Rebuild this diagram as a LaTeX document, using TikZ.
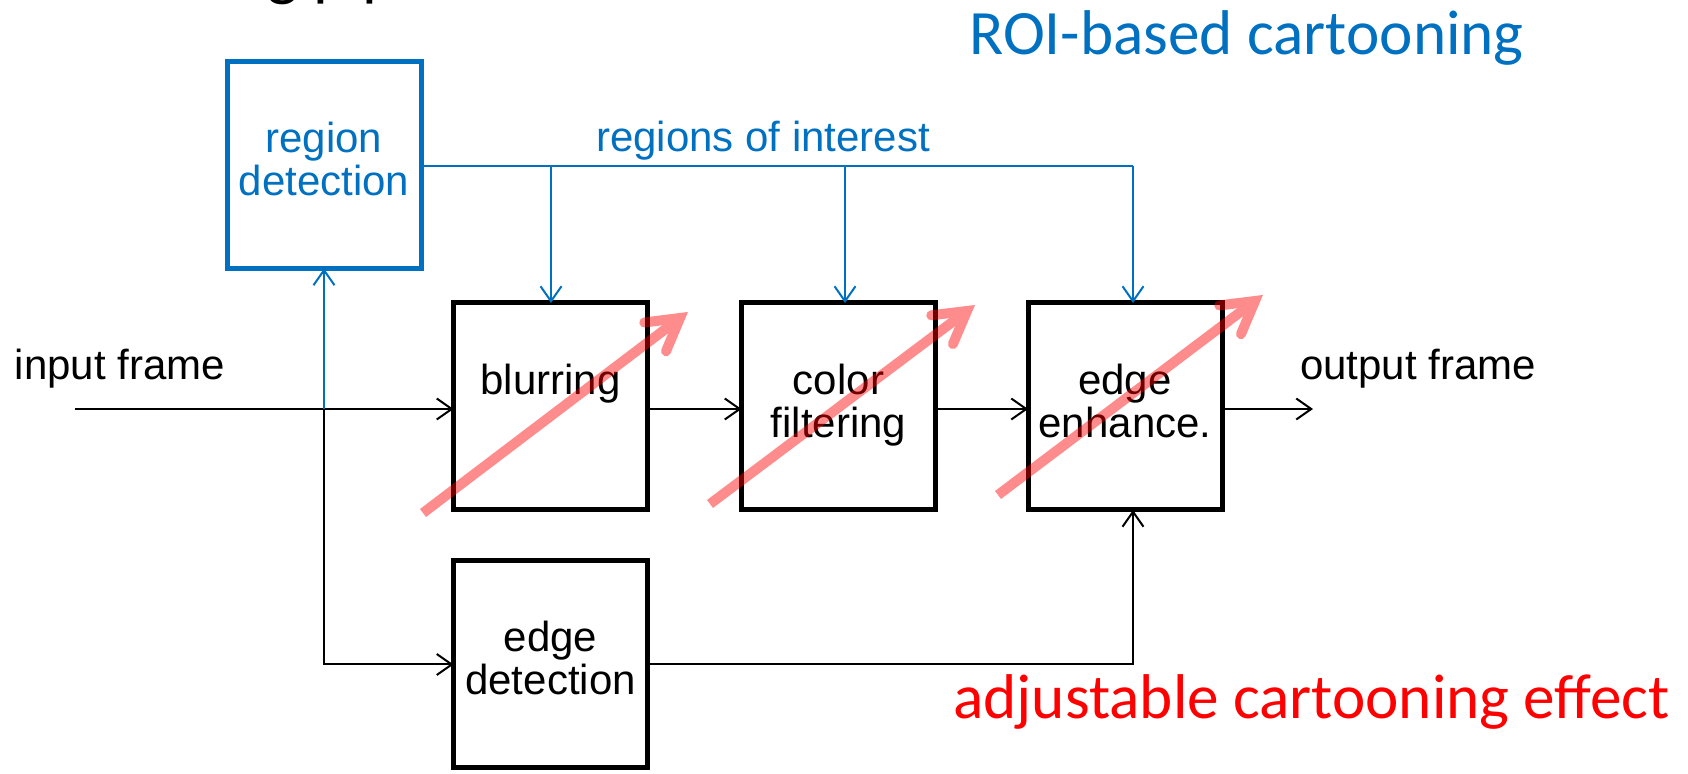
\documentclass[tikz,border=0pt]{standalone}
\usepackage{fontspec}
\setmainfont{Liberation Sans}
\newfontfamily\calfont{Carlito}
\usetikzlibrary{arrows.meta,calc}
\definecolor{roiblue}{RGB}{0,112,192}
\definecolor{effred}{RGB}{255,0,0}
\newcommand\twolines[2]{\begin{tabular}[t]{@{}c@{}}#1\\#2\end{tabular}}
\begin{document}
\begin{tikzpicture}[x=0.5pt,y=-0.5pt,
  blk/.style={draw=black,line width=2.5pt,minimum width=97pt,minimum height=103.5pt,inner sep=0pt,outer sep=0pt},
  blkblue/.style={blk,draw=roiblue},
  lbl/.style={inner sep=0pt,font=\fontsize{21}{20.5}\selectfont},
  conn/.style={line width=1pt,-{Straight Barb[length=7.5pt,width=10.5pt]}},
  wire/.style={line width=1pt},
  effshaft/.style={line width=5pt,draw=effred,line cap=butt},
  effhead/.style={line width=5pt,draw=effred,line cap=round,line join=miter},
  big/.style={inner sep=0pt,font=\calfont\fontsize{31.6}{31.6}\selectfont}]
\useasboundingbox (0,0) rectangle (1688,774);
\begin{scope}
\clip (0,0) rectangle (1688,774);
\node[inner sep=0pt,anchor=base west,font=\calfont\fontsize{33}{33}\selectfont] (title) at (232,-6) {ng pipeline};
\end{scope}
% boxes
\node[blkblue] (rd) at (324,165) {};
\node[blk] (blur) at (550.5,406.5) {};
\node[blk] (col) at (838.5,406.5) {};
\node[blk] (enh) at (1125,406.5) {};
\node[blk] (edet) at (550.5,664.5) {};
% box texts
\node[lbl,text=roiblue,anchor=base] (rdt) at (324,153) {\twolines{region}{detection}};
\node[lbl,anchor=base] (blurt) at (550.5,395) {blurring};
\node[lbl,anchor=base] (colt) at (838.5,395) {\twolines{color}{filtering}};
\node[lbl,anchor=base] (enht) at (1125,395) {\twolines{edge}{enhance.}};
\node[lbl,anchor=base] (edett) at (550.5,652) {\twolines{edge}{detection}};
% labels
\node[lbl,anchor=base] (inl) at (120,380) {input frame};
\node[lbl,anchor=base] (outl) at (1418,380) {output frame};
\node[lbl,anchor=base,text=roiblue] (roil) at (763,152) {regions of interest};
\node[big,anchor=base west,text=roiblue] (roit) at (969,55) {ROI-based cartooning};
\node[big,anchor=base west,text=effred] (efft) at (953,719) {adjustable cartooning effect};
% coordinates
\coordinate (in) at (75,409);
\coordinate (jn) at (324,409);
\coordinate (out) at (1313,409);
\coordinate (rj) at (1133,166);
% main flow
\draw[conn] (in) -- (in -| blur.west);
\draw[conn] (blur.east |- in) -- (col.west |- in);
\draw[conn] (col.east |- in) -- (enh.west |- in);
\draw[conn] (enh.east |- in) -- (out);
\draw[conn] (jn) |- (edet.west);
\draw[conn] (edet.east) -| (enh.south -| rj);
% ROI
\draw[conn,draw=roiblue] (jn) -- (rd.south);
\draw[wire,draw=roiblue] (rd.east |- rj) -- (rj);
\draw[conn,draw=roiblue] (551,166) -- (blur.north -| 551,0);
\draw[conn,draw=roiblue] (845,166) -- (col.north -| 845,0);
\draw[conn,draw=roiblue] (rj) -- (enh.north -| rj);
% effect arrows
\coordinate (t1) at (423,513); \coordinate (v1) at (680,318);
\coordinate (t2) at (710,504); \coordinate (v2) at (967,311);
\coordinate (t3) at (998,495); \coordinate (v3) at (1255,301);
\foreach \i in {1,2,3}{
  \begin{scope}[transparency group,opacity=0.45]
    \draw[effshaft] (t\i) -- (v\i);
    \draw[effhead] ($(v\i)!18pt!30:(t\i)$) -- (v\i) -- ($(v\i)!18pt!-30:(t\i)$);
  \end{scope}
}
\end{tikzpicture}
\end{document}
